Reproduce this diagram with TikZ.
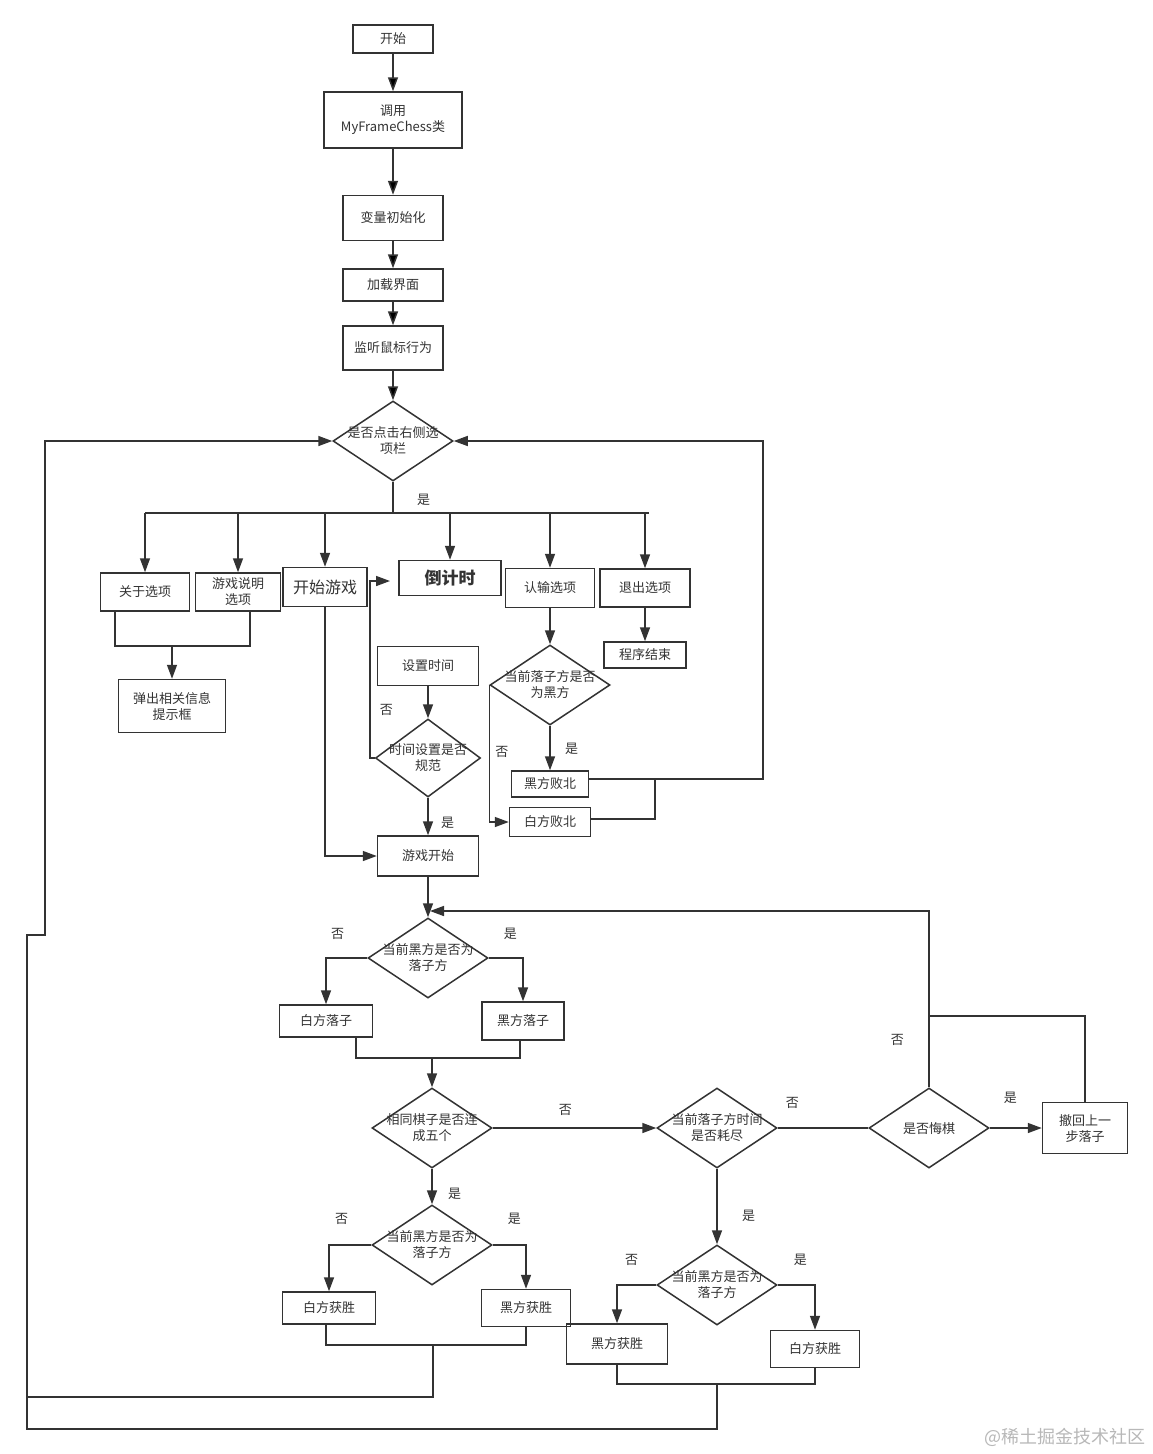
\documentclass[tikz,border=0pt]{standalone}
\usepackage{fontspec}
\newfontfamily\cjk{Noto Sans CJK SC}
\usepackage{tikz}
\usetikzlibrary{positioning,shapes.geometric,arrows.meta}
\definecolor{lnc}{HTML}{333333}
\definecolor{txc}{HTML}{333333}

\begin{document}
\begin{tikzpicture}[x=1pt, y=-1pt, on grid,
        box/.style={draw=lnc, line width=1.5pt, text=txc, font=\cjk\fontsize{13}{16}\selectfont, align=center, inner sep=1pt},
        sz/.style 2 args={minimum width=#1pt, minimum height=#2pt},
        dec/.style={box, diamond, minimum width=120pt, minimum height=80pt, inner xsep=-14pt, inner ysep=-8pt},
        lbl/.style={text=txc, font=\cjk\fontsize{13}{16}\selectfont, inner sep=0pt},
        wire/.style={draw=lnc, line width=1.5pt},
        arr/.style={wire, -{Triangle[length=14pt, width=10pt]}}]
        \path[use as bounding box, fill=white] (0,0) rectangle (1152,1454);
        % main column
        \node[box, sz={80}{28}] (st) at (393,39) {开始};
        \node[box, sz={138}{56}] (call) [below=81pt of st] {调用\\MyFrameChess类};
        \node[box, sz={100}{45}] (init) [below=98pt of call] {变量初始化};
        \node[box, sz={100}{32}] (load) [below=67pt of init] {加载界面};
        \node[box, sz={100}{44}] (lis) [below=63pt of load] {监听鼠标行为};
        \node[dec] (ask) [below=93pt of lis] {是否点击右侧选\\项栏};
        % options row
        \node[box, sz={89}{38}] (abt) [below left=151pt and 248pt of ask] {关于选项};
        \node[box, sz={85}{38}] (help) [right=93pt of abt] {游戏说明\\选项};
        \node[box, sz={84}{39}, font=\cjk\fontsize{16}{19}\selectfont] (sg) [above right=5pt and 87pt of help] {开始游戏};
        \node[box, sz={102}{35}, font=\cjk\bfseries\fontsize{17}{20}\selectfont] (cd) [above right=9pt and 125pt of sg] {倒计时};
        \node[box, sz={89}{39}] (gu) [below right=10pt and 100pt of cd] {认输选项};
        \node[box, sz={90}{38}] (qt) [right=95pt of gu] {退出选项};
        \node[box, sz={107}{53}] (pop) [below right=114pt and 27pt of abt] {弹出相关信息\\提示框};
        \node[box, sz={101}{39}] (set) [below right=79pt and 103pt of sg] {设置时间};
        \node[dec, minimum width=105pt, minimum height=78pt] (chk) [below=92pt of set] {时间设置是否\\规范};
        \node[box, sz={101}{40}] (go) [below=98pt of chk] {游戏开始};
        \node[dec] (dl) [below=97pt of gu] {当前落子方是否\\为黑方};
        \node[box, sz={77}{26}] (bl) [below=99pt of dl] {黑方败北};
        \node[box, sz={81}{29}] (wl) [below=38pt of bl] {白方败北};
        \node[box, sz={82}{26}] (fin) [below=67pt of qt] {程序结束};
        % game loop
        \node[dec] (cur) [below=102pt of go] {当前黑方是否为\\落子方};
        \node[box, sz={93}{32}] (wp) [below left=63pt and 102pt of cur] {白方落子};
        \node[box, sz={82}{38}] (bp) [below right=63pt and 95pt of cur] {黑方落子};
        \node[dec] (five) [below right=170pt and 4pt of cur] {相同棋子是否连\\成五个};
        \node[dec] (tout) [right=285pt of five] {当前落子方时间\\是否耗尽};
        \node[dec] (reg) [right=212pt of tout] {是否悔棋};
        \node[box, sz={85}{51}] (undo) [right=156pt of reg] {撤回上一\\步落子};
        \node[dec] (cur2) [below=117pt of five] {当前黑方是否为\\落子方};
        \node[box, sz={93}{32}] (ww) [below left=63pt and 103pt of cur2] {白方获胜};
        \node[box, sz={89}{37}] (bw) [below right=63pt and 94pt of cur2] {黑方获胜};
        \node[dec] (cur3) [below=157pt of tout] {当前黑方是否为\\落子方};
        \node[box, sz={101}{40}] (bw2) [below left=59pt and 100pt of cur3] {黑方获胜};
        \node[box, sz={89}{37}] (ww2) [below right=64pt and 98pt of cur3] {白方获胜};
        % labels
        \node[lbl] (y1) [below right=12pt and 24pt of ask.south] {是};
        \node[lbl] (n1) [above right=42pt and 5pt of chk.west] {否};
        \node[lbl] (y2) [below right=19pt and 13pt of chk.south] {是};
        \node[lbl] (n2) [below right=61pt and 6pt of dl.west] {否};
        \node[lbl] (y3) [below right=17pt and 15pt of dl.south] {是};
        \node[lbl] (n3) [above left=18pt and 23pt of cur.west] {否};
        \node[lbl] (y4) [above right=18pt and 15pt of cur.east] {是};
        \node[lbl] (n4) [above right=12pt and 66pt of five.east] {否};
        \node[lbl] (n5) [above right=19pt and 8pt of tout.east] {否};
        \node[lbl] (n6) [above left=42pt and 25pt of reg.north] {否};
        \node[lbl] (y5) [above right=24pt and 14pt of reg.east] {是};
        \node[lbl] (y6) [below right=19pt and 16pt of five.south] {是};
        \node[lbl] (n7) [above left=20pt and 23pt of cur2.west] {否};
        \node[lbl] (y7) [above right=20pt and 15pt of cur2.east] {是};
        \node[lbl] (y8) [below right=41pt and 25pt of tout.south] {是};
        \node[lbl] (n8) [above left=19pt and 18pt of cur3.west] {否};
        \node[lbl] (y9) [above right=19pt and 16pt of cur3.east] {是};
        \node[font=\cjk\fontsize{18}{20}\selectfont, text=black!28] (wm) at (1065,1437) {@稀土掘金技术社区};
        % bends
        \coordinate (bus) at (393,513);
        \coordinate (busr) at (649,513);
        \coordinate (m1) at (172,646);
        \coordinate (tip) at (390,581);
        \coordinate (rx) at (763,441);
        \coordinate (rj) at (655,779);
        \coordinate (back) at (430,911);
        \coordinate (uj) at (929,1016);
        \coordinate (m2) at (432,1058);
        \coordinate (m3) at (433,1345);
        \coordinate (lb1) at (27,1397);
        \coordinate (m4) at (717,1384);
        \coordinate (lb2) at (27,1429);
        \coordinate (jog) at (27,935);
        \coordinate (lx) at (45,935);
        % connectors
        \path[arr]
        (st) edge (call)
        (call) edge (init)
        (init) edge (load)
        (load) edge (lis)
        (lis) edge (ask);
        \draw[wire] (ask.south) -- (bus);
        \draw[wire] (abt.north |- bus) -- (busr);
        \draw[arr] (abt.north |- bus) -- (abt.north);
        \draw[arr] (help.north |- bus) -- (help.north);
        \draw[arr] (sg.north |- bus) -- (sg.north);
        \draw[arr] (cd.north |- bus) -- (cd.north);
        \draw[arr] (gu.north |- bus) -- (gu.north);
        \draw[arr] (qt.north |- bus) -- (qt.north);
        \draw[wire] ([xshift=-30pt]abt.south) |- (m1) -| ([xshift=12pt]help.south);
        \draw[arr] (m1) -- (pop.north);
        \draw[arr] (sg.south) |- (go.west);
        \draw[arr] (set) -- (chk);
        \draw[arr] (chk) -- (go);
        \draw[arr] (chk.west) -- ++(-5,0) |- (tip);
        \draw[arr] (gu) -- (dl);
        \draw[arr] (dl) -- (bl);
        \draw[arr] (dl.west) |- (wl.west);
        \draw[arr] ([yshift=5pt]bl.east) -| (rx) -- (ask.east);
        \draw[wire] ([yshift=3pt]wl.east) -| (rj);
        \draw[arr] (qt) -- (fin);
        \draw[arr] (go) -- (cur);
        \draw[arr] (reg.north) |- (back);
        \draw[wire] (undo.north) |- (uj);
        \draw[arr] (cur.west) -| (wp.north);
        \draw[arr] (cur.east) -| (bp.north);
        \draw[wire] ([xshift=30pt]wp.south) |- (m2) -| ([xshift=-3pt]bp.south);
        \draw[arr] (m2) -- (five.north);
        \draw[arr] (five) -- (tout);
        \draw[wire] (tout) -- (reg);
        \draw[arr] (reg) -- (undo);
        \draw[arr] (five) -- (cur2);
        \draw[arr] (cur2.west) -| (ww.north);
        \draw[arr] (cur2.east) -| (bw.north);
        \draw[wire] ([xshift=-3pt]ww.south) |- (m3) -| (bw.south);
        \draw[wire] (m3) |- (lb1);
        \draw[arr] (tout) -- (cur3);
        \draw[arr] (cur3.west) -| (bw2.north);
        \draw[arr] (cur3.east) -| (ww2.north);
        \draw[wire] (bw2.south) |- (m4) -| (ww2.south);
        \draw[arr] (m4) |- (lb2) -- (jog) -- (lx) |- (ask.west);
    \end{tikzpicture}
\end{document}
